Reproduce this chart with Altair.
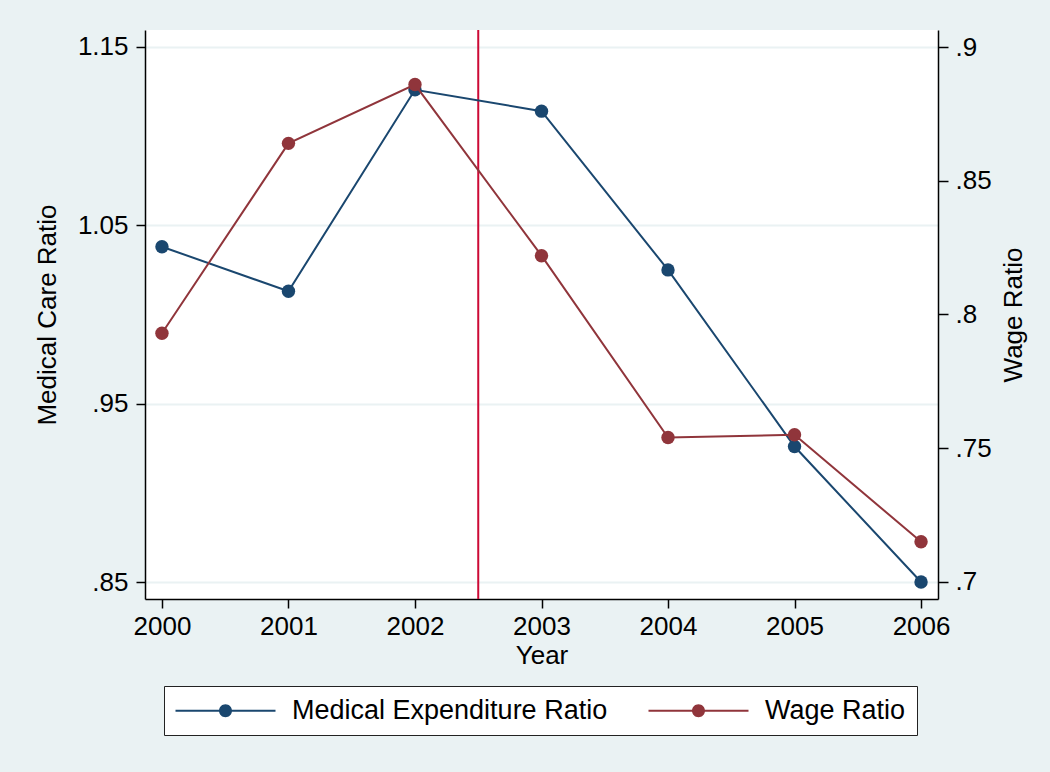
import altair as alt
import pandas as pd

# Survey years and the two ratio series
years = [2000, 2001, 2002, 2003, 2004, 2005, 2006]
medical_ratio = [1.038, 1.013, 1.126, 1.114, 1.025, 0.926, 0.850]
wage_ratio = [0.793, 0.864, 0.886, 0.822, 0.754, 0.755, 0.715]
series_names = ["Medical Expenditure Ratio", "Wage Ratio"]
series_colors = ["#1a476f", "#90353b"]
break_year = [2002.5]

left_ticks = [0.85, 0.95, 1.05, 1.15]
right_ticks = [0.70, 0.75, 0.80, 0.85, 0.90]

FONT = "Liberation Sans"
FS = 26
BG = "#EAF2F3"

med_df = pd.DataFrame({"year": years, "value": medical_ratio, "series": series_names[0]})
wage_df = pd.DataFrame({"year": years, "value": wage_ratio, "series": series_names[1]})
break_df = pd.DataFrame({"year": break_year})

color_scale = alt.Scale(domain=series_names, range=series_colors)

x_enc = alt.X(
    "year:Q",
    scale=alt.Scale(domain=[1999.866, 2006.134], nice=False, zero=False),
    axis=alt.Axis(values=years, format="d", title="Year", grid=False,
                  tickSize=9, labelPadding=5, titlePadding=3, labelFlush=False,
                  labelOverlap=False),
)

y_left = alt.Y(
    "value:Q",
    scale=alt.Scale(domain=[0.8405, 1.1595], nice=False, zero=False),
    axis=alt.Axis(values=left_ticks, title="Medical Care Ratio", orient="left",
                  labelExpr="substring(format(datum.value, '.2~f'), datum.value < 1 ? 1 : 0)",
                  grid=True, gridColor=BG, gridWidth=2, tickSize=9, labelPadding=8,
                  titlePadding=17, labelFlush=False, labelOverlap=False),
)

y_right = alt.Y(
    "value:Q",
    scale=alt.Scale(domain=[0.6936, 0.9064], nice=False, zero=False),
    axis=alt.Axis(values=right_ticks, title="Wage Ratio", orient="right",
                  labelExpr="substring(format(datum.value, '.2~f'), 1)",
                  grid=False, tickSize=10, labelPadding=7, titlePadding=9,
                  titleAngle=270, titleBaseline="top",
                  labelFlush=False, labelOverlap=False),
)

# legend symbol: a short line with a dot in the middle
legend_symbol = (
    "M-5,-0.1L-0.6,-0.1L-0.6,0.1L-5,0.1Z "
    "M0.6,-0.1L5,-0.1L5,0.1L0.6,0.1Z "
    "M0.65,0A0.65,0.65,0,1,1,-0.65,0A0.65,0.65,0,1,1,0.65,0Z"
)

legend = alt.Legend(
    title=None, orient="none", legendX=19, legendY=656,
    direction="horizontal", columns=2,
    symbolType=legend_symbol, symbolSize=400, symbolStrokeWidth=0,
    symbolOffset=37, labelOffset=53, columnPadding=40, padding=11,
    labelFont=FONT, labelFontSize=27, labelColor="black", labelLimit=600,
    fillColor="white", strokeColor="#222222",
)

rule = alt.Chart(break_df).mark_rule(color="#CC0A35", strokeWidth=2).encode(x=x_enc)


def series_layer(df, y_enc, color):
    line = alt.Chart(df).mark_line(strokeWidth=2, color=color).encode(x=x_enc, y=y_enc)
    pts = alt.Chart(df).mark_point(filled=True, size=180, opacity=1).encode(
        x=x_enc, y=y_enc,
        fill=alt.Fill("series:N", scale=color_scale, legend=legend),
    )
    return line, pts


med_line, med_pts = series_layer(med_df, y_left, series_colors[0])
wage_line, wage_pts = series_layer(wage_df, y_right, series_colors[1])

left = alt.layer(rule, med_line, med_pts)
right = alt.layer(wage_line, wage_pts)

chart = (
    alt.layer(left, right)
    .resolve_scale(y="independent")
    .properties(
        width=793, height=569,
        autosize=alt.AutoSizeParams(type="none"),
        padding={"left": 145, "top": 30, "right": 112, "bottom": 173},
        background=BG,
    )
    .configure_view(fill="white", stroke=None)
    .configure_axis(
        domainColor="black", domainWidth=1.5, tickColor="black", tickWidth=1.5,
        labelFont=FONT, labelFontSize=FS, labelColor="black",
        titleFont=FONT, titleFontSize=FS, titleFontWeight="normal", titleColor="black",
    )
)

chart.save("out.html", embed_options={"renderer": "svg", "actions": False})
